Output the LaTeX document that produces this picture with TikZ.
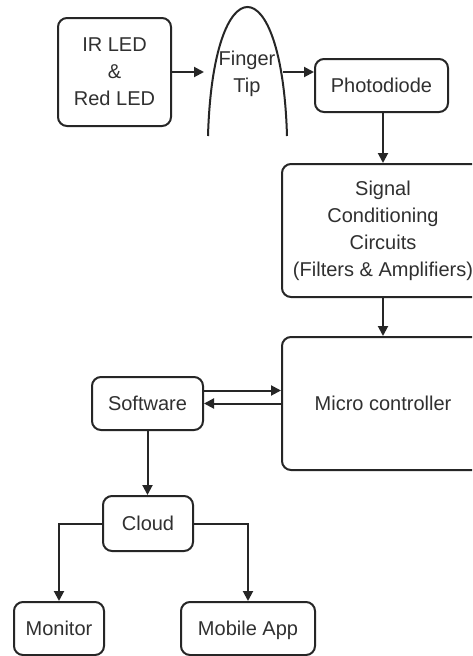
\documentclass[tikz,border=0pt]{standalone}
\usepackage{fontspec}
\setmainfont{Liberation Sans}
\usetikzlibrary{arrows.meta}
\definecolor{linec}{HTML}{262626}
\definecolor{textc}{HTML}{303030}
\begin{document}
\begin{tikzpicture}[x=1pt,y=-1pt,
  box/.style={draw=linec, line width=2pt, rounded corners=9pt, inner sep=0pt,
    align=center, font=\fontsize{20}{27}\selectfont, text=textc},
  one/.style={text height=14.3pt, text depth=0pt},
  lbl/.style={inner sep=0pt, align=center, font=\fontsize{20}{27}\selectfont, text=textc},
  arr/.style={draw=linec, line width=2pt, -{Triangle[length=10pt,width=10pt]}},
  ln/.style={draw=linec, line width=2pt},
]
\useasboundingbox (0,0) rectangle (472,656);
\clip (0,0) rectangle (472,656);
\fill[white] (0,0) rectangle (472,656);

\node[box, minimum width=113pt, minimum height=108pt] (led) at (114.5,72) {IR LED\\\&\\Red LED};
\node[lbl] (ft) at (247,74) {Finger\\Tip};
\draw[ln] (208,136) .. controls (213,-36) and (282,-36) .. (287,136);
\coordinate (ftin) at (204,72);
\coordinate (ftout) at (283,72);
\node[box, one, minimum width=133pt, minimum height=53pt] (pd) at (381.5,85.5) {Photodiode};
\node[box, minimum width=202pt, minimum height=133pt] (sig) at (383,230.5) {Signal\\Conditioning\\Circuits\\(Filters \& Amplifiers)};
\node[box, one, minimum width=202pt, minimum height=133pt] (mc) at (383,403.5) {Micro controller};
\node[box, one, minimum width=111pt, minimum height=53pt] (sw) at (147.5,403.5) {Software};
\node[box, one, minimum width=90pt, minimum height=55pt] (cl) at (148,523.5) {Cloud};
\node[box, one, minimum width=90pt, minimum height=53pt] (mon) at (59,628.5) {Monitor};
\node[box, one, minimum width=134pt, minimum height=53pt] (app) at (248,628.5) {Mobile App};

\draw[arr] (led.east |- ftin) -- (ftin);
\draw[arr] (ftout) -- (ftout -| pd.west);
\draw[arr] (pd.south -| sig.north) -- (sig.north);
\draw[arr] (sig.south) -- (mc.north);
\draw[arr] ([yshift=13pt]sw.east) -- ([yshift=13pt]sw.east -| mc.west);
\draw[arr] (mc.west |- sw.east) -- (sw.east);
\draw[arr] (sw.south) -- (sw.south |- cl.north);
\draw[arr] (cl.west) -| (mon.north);
\draw[arr] (cl.east) -| (app.north);
\end{tikzpicture}
\end{document}
